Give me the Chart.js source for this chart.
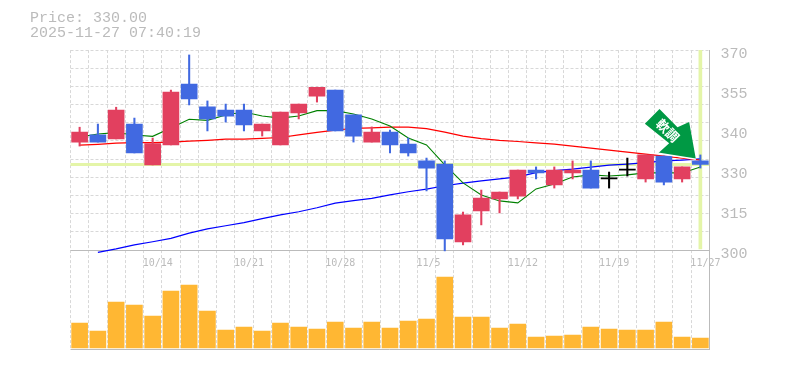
<!DOCTYPE html>
<html><head><meta charset="utf-8">
<style>html,body{margin:0;padding:0;background:#fff}canvas{display:block}</style>
<script src="https://cdn.jsdelivr.net/npm/chart.js@4"></script>
</head><body>
<div style="width:785px;height:370px"><canvas id="c" width="785" height="370"></canvas></div>
<script>
const categories=["10/7","10/8","10/9","10/10","10/14","10/15","10/16","10/17","10/20","10/21","10/22","10/23","10/24","10/27","10/28","10/29","10/30","10/31","11/4","11/5","11/6","11/7","11/10","11/11","11/12","11/13","11/14","11/17","11/18","11/19","11/20","11/21","11/25","11/26","11/27"];
const opens =[337.8,340.3,338.9,344.1,329.8,336.8,358.1,350.1,349,349,341.7,336.8,348,353.9,356,347.3,337.8,341.3,337.1,331.2,330.1,302.8,313.7,317.9,318.9,328,322.8,327,328,324.9,328,324.9,332.9,324.9,331.2];
const closes=[341.3,337.8,349,334,337.3,355.3,352.9,345.9,346.9,343.8,344.1,348.3,351.1,357,341.7,339.9,341.3,336.8,334,328.7,303.9,312.3,318.2,320.3,328,327,328,328,321.7,324.9,328,333.3,323.8,329.1,330];
const highs =[343,344.1,350,346.2,339.2,356,368.3,352.2,351.1,351.1,344.1,348.3,351.1,357,356,347.3,343.1,342,339.2,332.2,331.2,313.3,321,320.3,328,329.1,329.1,331.2,331.2,327.3,332.2,333.3,332.9,329.1,333.3];
const lows  =[336.4,337.8,338.9,334,329.8,336.8,350.8,341.7,344.8,341.7,339.9,336.8,345.9,351.8,341.7,337.8,337.8,334,332.9,320.7,299.7,301.8,308.8,313,317.9,324.9,321.7,324.9,321.7,321.7,325.9,323.8,322.8,323.8,328.7];
const maShort=[339.6,340.6,341.1,340.3,339.8,342.7,345.8,345.4,347.3,348.3,346.9,346.2,346.9,348.8,348.8,347.6,345.9,343.4,339.2,336.8,329.8,323.5,319.3,317.2,316.5,321.4,323.1,325.6,326.3,325.9,326.3,327,327,327,329.1];
const maMid=[336.7,337,337.4,337.6,337.6,337.8,338.1,338.4,338.8,338.8,339.1,339.4,340.3,341.2,342,342.6,342.8,343,343,342.5,341.3,339.9,339,338.4,338,337.5,337.1,336.4,335.7,335,334.3,333.6,332.9,332.2,331.5];
const maLong=[null,299.2,300.4,301.8,302.9,304.1,305.9,307.4,308.5,309.6,311,312.3,313.4,314.8,316.4,317.3,318.1,319.3,320.4,321.3,322.5,323.4,324.2,324.9,325.6,327.1,327.8,328.3,329,329.7,330.1,330.6,331.2,331.5,331.9];
const volumes=[25,17,46,43,32,57,63,37,18,21,17,25,21,19,26,20,26,20,27,29,71,31,31,20,24,11,12,13,21,19,18,18,26,11,10];
const priceTickValues=[370,356,342,328,314,300];
const priceTickLabels=["370","355","340","330","315","300"];
const dateTicks=["10/14","10/21","10/28","11/5","11/12","11/19","11/27"];
const lastPrice=330;
const titleLines=["Price: 330.00","2025-11-27 07:40:19"];
const signalText="軟調";

const UP='#e2405f',DOWN='#4169e1',FLAT='#000000',GREY='#bbbbbb',GRID='#d8d8d8',BAND='#e4f5a8';
const gridValues=Array.from({length:12},(_,k)=>370-k*70/11);
const isGrid=v=>gridValues.some(g=>Math.abs(g-v)<1e-6);
const candleColor=i=>opens[i]===closes[i]?FLAT:(closes[i]>opens[i]?UP:DOWN);

const arrow={id:'signalArrow',afterDatasetsDraw(chart){
  const {ctx,scales}=chart;
  const tx=scales.x.getPixelForValue(categories.length-1)-4.5;
  const ty=scales.y.getPixelForValue(lastPrice)-5;
  const pts=[[-36.4,-50.3],[-51,-35.6],[-26.7,-16],[-37.7,-6],[0,0],[-6.7,-37.3],[-18.4,-32]];
  ctx.save();
  ctx.translate(tx,ty);
  ctx.beginPath();
  pts.forEach((p,i)=>i?ctx.lineTo(p[0],p[1]):ctx.moveTo(p[0],p[1]));
  ctx.closePath();
  ctx.fillStyle='#009944';ctx.fill();
  ctx.beginPath();ctx.moveTo(-37.7,-6);ctx.lineTo(0,0);
  ctx.strokeStyle='#ffffff';ctx.lineWidth=1.5;ctx.stroke();
  ctx.translate(-28.2,-28.8);ctx.rotate(Math.PI/4);
  ctx.fillStyle='#ffffff';ctx.font='bold 13px "Noto Sans CJK JP"';
  ctx.textAlign='center';ctx.textBaseline='middle';
  ctx.fillText(signalText,0,0);
  ctx.restore();
}};

new Chart(document.getElementById('c'),{
  data:{labels:categories,datasets:[
    {type:'bar',label:'band',yAxisID:'y',order:9,data:categories.map((_,i)=>i===categories.length-1?[300.4,370]:null),backgroundColor:BAND,barThickness:3,grouped:false},
    {type:'line',label:'MA long',yAxisID:'y',order:6,data:maLong,borderColor:'#0000ff',borderWidth:1.2,pointRadius:0,tension:0,clip:false},
    {type:'line',label:'MA mid',yAxisID:'y',order:5,data:maMid,borderColor:'#ff0000',borderWidth:1.2,pointRadius:0,tension:0},
    {type:'line',label:'MA short',yAxisID:'y',order:4,data:maShort,borderColor:'#008000',borderWidth:1.1,pointRadius:0,tension:0},
    {type:'bar',label:'wick',yAxisID:'y',order:3,data:highs.map((h,i)=>[lows[i],h]),backgroundColor:c=>candleColor(c.dataIndex),barThickness:1.4,grouped:false,clip:false},
    {type:'bar',label:'body',yAxisID:'y',order:2,data:opens.map((o,i)=>[o,closes[i]]),backgroundColor:c=>candleColor(c.dataIndex),barThickness:16,minBarLength:1,grouped:false},
    {type:'bar',label:'volume',yAxisID:'yVol',order:1,data:volumes,backgroundColor:'#ffb733',barThickness:16,grouped:false}
  ]},
  plugins:[arrow],
  options:{
    responsive:false,animation:false,events:[],
    layout:{padding:{left:30,top:0,right:0,bottom:20}},
    plugins:{legend:{display:false},tooltip:{enabled:false},
      title:{display:true,text:titleLines,align:'start',color:GREY,
        font:{family:'"Liberation Mono"',size:15,weight:'normal',lineHeight:0.97},
        padding:{top:11,bottom:10}}},
    scales:{
      pad:{type:'linear',position:'left',grid:{display:false},border:{display:false},ticks:{display:false},afterFit(s){s.width=40.5}},
      x:{type:'category',position:{yVol:98},offset:true,
        grid:{offset:true,color:GRID,drawTicks:false},border:{display:false,dash:[3,2]},
        ticks:{autoSkip:false,maxRotation:0,minRotation:0,align:'start',labelOffset:-10,padding:7,color:GREY,
          font:{family:'"DejaVu Sans Mono"',size:10},
          callback(v){const l=this.getLabelForValue(v);return dateTicks.includes(l)?l:'';}}},
      y:{type:'linear',position:'right',stack:'main',stackWeight:2,min:300,max:370,
        afterBuildTicks(s){
          const vals=new Set([...gridValues,...priceTickValues,lastPrice]);
          s.ticks=[...vals].sort((a,b)=>a-b).map(value=>({value}));},
        afterFit(s){s.width=75.5},
        grid:{drawTicks:false,
          color:c=>c.tick.value===lastPrice?BAND:(isGrid(c.tick.value)?GRID:'rgba(0,0,0,0)'),
          lineWidth:c=>c.tick.value===lastPrice?3:1},
        border:{display:true,color:GREY,dash:c=>(c.tick&&c.tick.value===lastPrice)?[]:[3,2]},
        ticks:{autoSkip:false,padding:11,labelOffset:4,color:GREY,
          font:{family:'"Liberation Mono"',size:15},
          callback(v){const k=priceTickValues.indexOf(v);return k>=0?priceTickLabels[k]:'';}}},
      yVol:{type:'linear',position:'right',stack:'main',stackWeight:1,min:-2,max:98,
        afterBuildTicks(s){s.ticks=[{value:-2},{value:98}];},
        afterFit(s){s.width=75.5},
        grid:{drawTicks:false,color:GREY},border:{display:true,color:GREY},
        ticks:{display:false}}
    }
  }
});
</script>
</body></html>
